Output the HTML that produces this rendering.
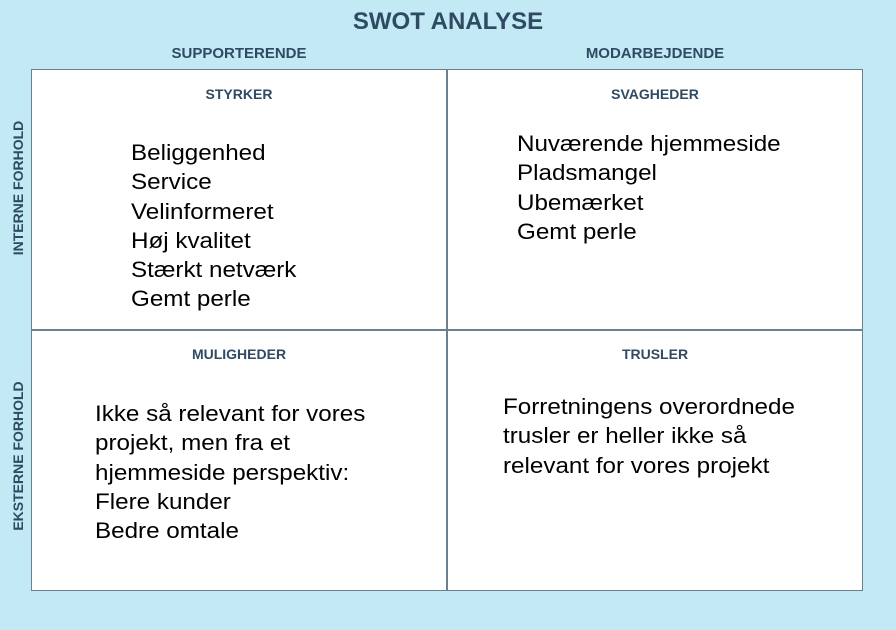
<!DOCTYPE html>
<html><head><meta charset="utf-8"><style>
body{margin:0;width:896px;height:630px;background:#c2e9f4;position:relative;overflow:hidden;font-family:"Liberation Sans",Arial,sans-serif}
.h{position:absolute;color:#2f4a62;font-weight:bold;text-align:center;white-space:nowrap}
.grid{position:absolute;left:31px;top:69px;width:830px;height:520px;background:#fff;border:1.5px solid #6a7f90}
.vl{position:absolute;background:#6a7f90}
.t{position:absolute;font-size:22px;line-height:29.3px;color:#000;white-space:nowrap;transform:scaleX(1.1);transform-origin:0 0}
.v{position:absolute;transform:translate(-50%,-50%) rotate(-90deg);color:#2f4a62;font-weight:bold;font-size:14px;white-space:nowrap}
</style></head><body>
<div class="h" style="left:0;width:896px;top:8px;font-size:24px">SWOT ANALYSE</div>
<div class="h" style="left:31px;width:416px;top:45px;font-size:15px">SUPPORTERENDE</div>
<div class="h" style="left:447px;width:416px;top:45px;font-size:15px">MODARBEJDENDE</div>
<div class="grid"></div>
<div class="vl" style="left:446px;top:69px;width:1.5px;height:522px"></div>
<div class="vl" style="left:31px;top:329px;width:832px;height:1.5px"></div>
<div class="v" style="left:18px;top:188px">INTERNE FORHOLD</div>
<div class="v" style="left:18px;top:456px">EKSTERNE FORHOLD</div>
<div class="h" style="left:31px;width:416px;top:86px;font-size:14px">STYRKER</div>
<div class="h" style="left:447px;width:416px;top:86px;font-size:14px">SVAGHEDER</div>
<div class="h" style="left:31px;width:416px;top:346px;font-size:14px">MULIGHEDER</div>
<div class="h" style="left:447px;width:416px;top:346px;font-size:14px">TRUSLER</div>
<div class="t" style="left:131px;top:138px">Beliggenhed<br>Service<br>Velinformeret<br>Høj kvalitet<br>Stærkt netværk<br>Gemt perle</div>
<div class="t" style="left:517px;top:129px">Nuværende hjemmeside<br>Pladsmangel<br>Ubemærket<br>Gemt perle</div>
<div class="t" style="left:95px;top:399px">Ikke så relevant for vores<br>projekt, men fra et<br>hjemmeside perspektiv:<br>Flere kunder<br>Bedre omtale</div>
<div class="t" style="left:503px;top:392px">Forretningens overordnede<br>trusler er heller ikke så<br>relevant for vores projekt</div>
</body></html>
